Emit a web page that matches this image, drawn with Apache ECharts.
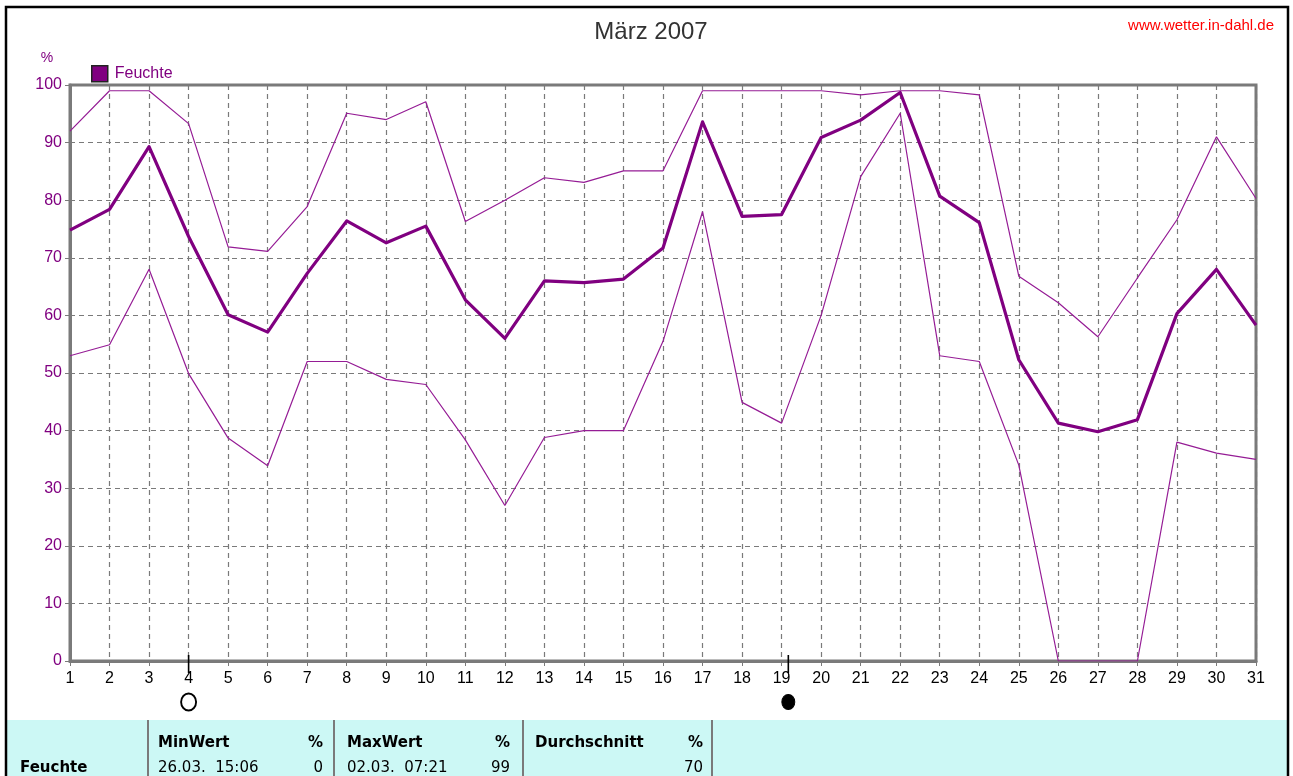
<!DOCTYPE html>
<html>
<head>
<meta charset="utf-8">
<title>Feuchte März 2007</title>
<script src="https://cdn.jsdelivr.net/npm/echarts@6.0.0/dist/echarts.min.js"></script>
<style>
  html, body { margin: 0; padding: 0; background: #fff; }
  #chart { width: 1293px; height: 776px; }
</style>
</head>
<body>
<div id="chart"></div>
<script>
// Tage im März
var days = [1,2,3,4,5,6,7,8,9,10,11,12,13,14,15,16,17,18,19,20,21,22,23,24,25,26,27,28,29,30,31];
// Feuchte in % (Tagesmaximum, Tagesmittel, Tagesminimum)
var humMax = [92,99,99,93.3,71.9,71.1,78.9,95.1,94,97.1,76.3,80,83.9,83.1,85.1,85.1,99,99,99,99,98.3,99,99,98.3,66.8,62.2,56.3,66.5,76.6,91,80.3];
var humAvg = [74.8,78.4,89.3,73.7,60.1,57.1,67.3,76.4,72.6,75.5,62.7,56,66,65.7,66.3,71.7,93.6,77.2,77.5,90.9,93.9,98.7,80.7,76.1,52.3,41.3,39.8,41.9,60.3,68,58.3];
var humMin = [53,54.9,68,49.9,38.7,33.9,52,52,48.9,48,38.4,27,38.8,40,40,55.5,78,44.9,41.3,60,84.1,95.1,53,52,34,0,0,0,38,36.1,35];
var yTicks = [0,10,20,30,40,50,60,70,80,90,100];
// Mondphasen (Tag, Phase)
var moonDays = [4.0, 19.17];
var moonPhase = ['voll', 'neu'];
// Tabelle unten
var tableHead = ['MinWert', '%', 'MaxWert', '%', 'Durchschnitt', '%'];
var tableRow = ['Feuchte', '26.03.  15:06', '0', '02.03.  07:21', '99', '70'];

var purple = '#800080';
var thinPurple = '#951c95';
var gray = '#7a7a7a';
var labelFont = "'Liberation Sans', Arial, sans-serif";
var tableFont = "'DejaVu Sans', sans-serif";

function pair(arr) {
  return arr.map(function (v, i) { return [days[i], v]; });
}

var chart = echarts.init(document.getElementById('chart'));

var option = {
  animation: false,
  backgroundColor: '#fff',
  legend: {
    left: 86,
    top: 60,
    itemWidth: 16,
    itemHeight: 16,
    itemGap: 6,
    data: [{
      name: 'Feuchte',
      icon: 'rect',
      itemStyle: { color: purple, borderColor: '#222', borderWidth: 1.5 }
    }],
    textStyle: { color: purple, fontSize: 16, fontFamily: labelFont, padding: [0, 0, 0, 2] }
  },
  grid: [{
    left: 70, right: 37, top: 85, bottom: 115,
    show: true,
    borderColor: gray,
    borderWidth: 3,
    backgroundColor: '#fff'
  }, {
    left: 70, right: 37, top: 650, height: 62
  }],
  xAxis: [{
    type: 'value',
    gridIndex: 0,
    min: 1,
    max: 31,
    interval: 1,
    axisLine: { lineStyle: { color: gray, width: 3 } },
    axisTick: { show: true, length: 5, lineStyle: { color: gray, width: 1 } },
    axisLabel: { color: '#000', fontSize: 16, fontFamily: labelFont, margin: 10 },
    splitLine: { show: true, lineStyle: { color: gray, width: 1.2, type: [5, 4] } }
  }, {
    type: 'value',
    gridIndex: 1,
    min: 1,
    max: 31,
    interval: 1,
    show: false
  }],
  yAxis: [{
    type: 'value',
    gridIndex: 0,
    min: yTicks[0],
    max: yTicks[yTicks.length - 1],
    interval: 10,
    axisLine: { show: true, lineStyle: { color: gray, width: 3 } },
    axisTick: { show: true, length: 5, lineStyle: { color: gray, width: 1 } },
    axisLabel: { color: purple, fontSize: 16, fontFamily: labelFont, margin: 8 },
    splitLine: { show: true, lineStyle: { color: gray, width: 1.2, type: [5, 4] } }
  }, {
    type: 'value',
    gridIndex: 1,
    min: 0,
    max: 62,
    inverse: true,
    show: false
  }],
  series: [{
    name: 'Max',
    type: 'line',
    data: pair(humMax),
    showSymbol: false,
    silent: true,
    lineStyle: { color: thinPurple, width: 1.2 },
    itemStyle: { color: thinPurple },
    z: 3
  }, {
    name: 'Min',
    type: 'line',
    data: pair(humMin),
    showSymbol: false,
    silent: true,
    lineStyle: { color: thinPurple, width: 1.2 },
    itemStyle: { color: thinPurple },
    z: 3
  }, {
    name: 'Feuchte',
    type: 'line',
    data: pair(humAvg),
    showSymbol: false,
    silent: true,
    lineStyle: { color: purple, width: 3.2, join: 'round' },
    itemStyle: { color: purple },
    z: 4
  }, {
    name: 'Mondstrich',
    type: 'scatter',
    xAxisIndex: 1,
    yAxisIndex: 1,
    silent: true,
    symbol: 'rect',
    symbolSize: [1.6, 18],
    itemStyle: { color: '#000', opacity: 1 },
    data: moonDays.map(function (d) { return [d, 14]; }),
    z: 5
  }, {
    name: 'Mond',
    type: 'scatter',
    xAxisIndex: 1,
    yAxisIndex: 1,
    silent: true,
    data: moonDays.map(function (d, i) {
      var full = moonPhase[i] === 'voll';
      return {
        value: [d, 52],
        symbol: 'circle',
        symbolSize: full ? [15, 17] : [13, 15],
        itemStyle: full
          ? { color: '#fff', borderColor: '#000', borderWidth: 2, opacity: 1 }
          : { color: '#000', borderColor: '#000', borderWidth: 1, opacity: 1 }
      };
    }),
    z: 5
  }],
  graphic: []
};

// Titel, Quelle, Einheit
var g = option.graphic;
g.push({ type: 'text', x: 651, y: 32, z: 10,
  style: { text: 'März 2007', fill: '#333', font: "24px " + labelFont, align: 'center', verticalAlign: 'middle' } });
g.push({ type: 'text', x: 1274, y: 26, z: 10,
  style: { text: 'www.wetter.in-dahl.de', fill: '#ff0000', font: "15px " + labelFont, align: 'right', verticalAlign: 'middle' } });
g.push({ type: 'text', x: 47, y: 58, z: 10,
  style: { text: '%', fill: purple, font: "14px " + labelFont, align: 'center', verticalAlign: 'middle' } });

// Tabelle
g.push({ type: 'rect', z: 1, shape: { x: 7, y: 720, width: 1281, height: 60 },
  style: { fill: '#ccf8f5' } });
[148, 334, 523, 712].forEach(function (x) {
  g.push({ type: 'line', z: 2, shape: { x1: x, y1: 720, x2: x, y2: 780 },
    style: { stroke: gray, lineWidth: 2 } });
});
var headX = [158, 323, 347, 510, 535, 703];
var headAlign = ['left', 'right', 'left', 'right', 'left', 'right'];
tableHead.forEach(function (t, i) {
  g.push({ type: 'text', x: headX[i], y: 743, z: 3,
    style: { text: t, fill: '#000', font: "bold 15px " + tableFont, align: headAlign[i], verticalAlign: 'middle' } });
});
var rowX = [20, 158, 323, 347, 510, 703];
var rowAlign = ['left', 'left', 'right', 'left', 'right', 'right'];
tableRow.forEach(function (t, i) {
  g.push({ type: 'text', x: rowX[i], y: 768, z: 3,
    style: { text: t, fill: '#000', font: (i === 0 ? "bold 15px " : "15px ") + tableFont, align: rowAlign[i], verticalAlign: 'middle' } });
});

// Rahmen
g.push({ type: 'rect', z: 20, silent: true, shape: { x: 6, y: 7, width: 1282, height: 790 },
  style: { fill: null, stroke: '#000', lineWidth: 2.5 } });

chart.setOption(option);
</script>
</body>
</html>
